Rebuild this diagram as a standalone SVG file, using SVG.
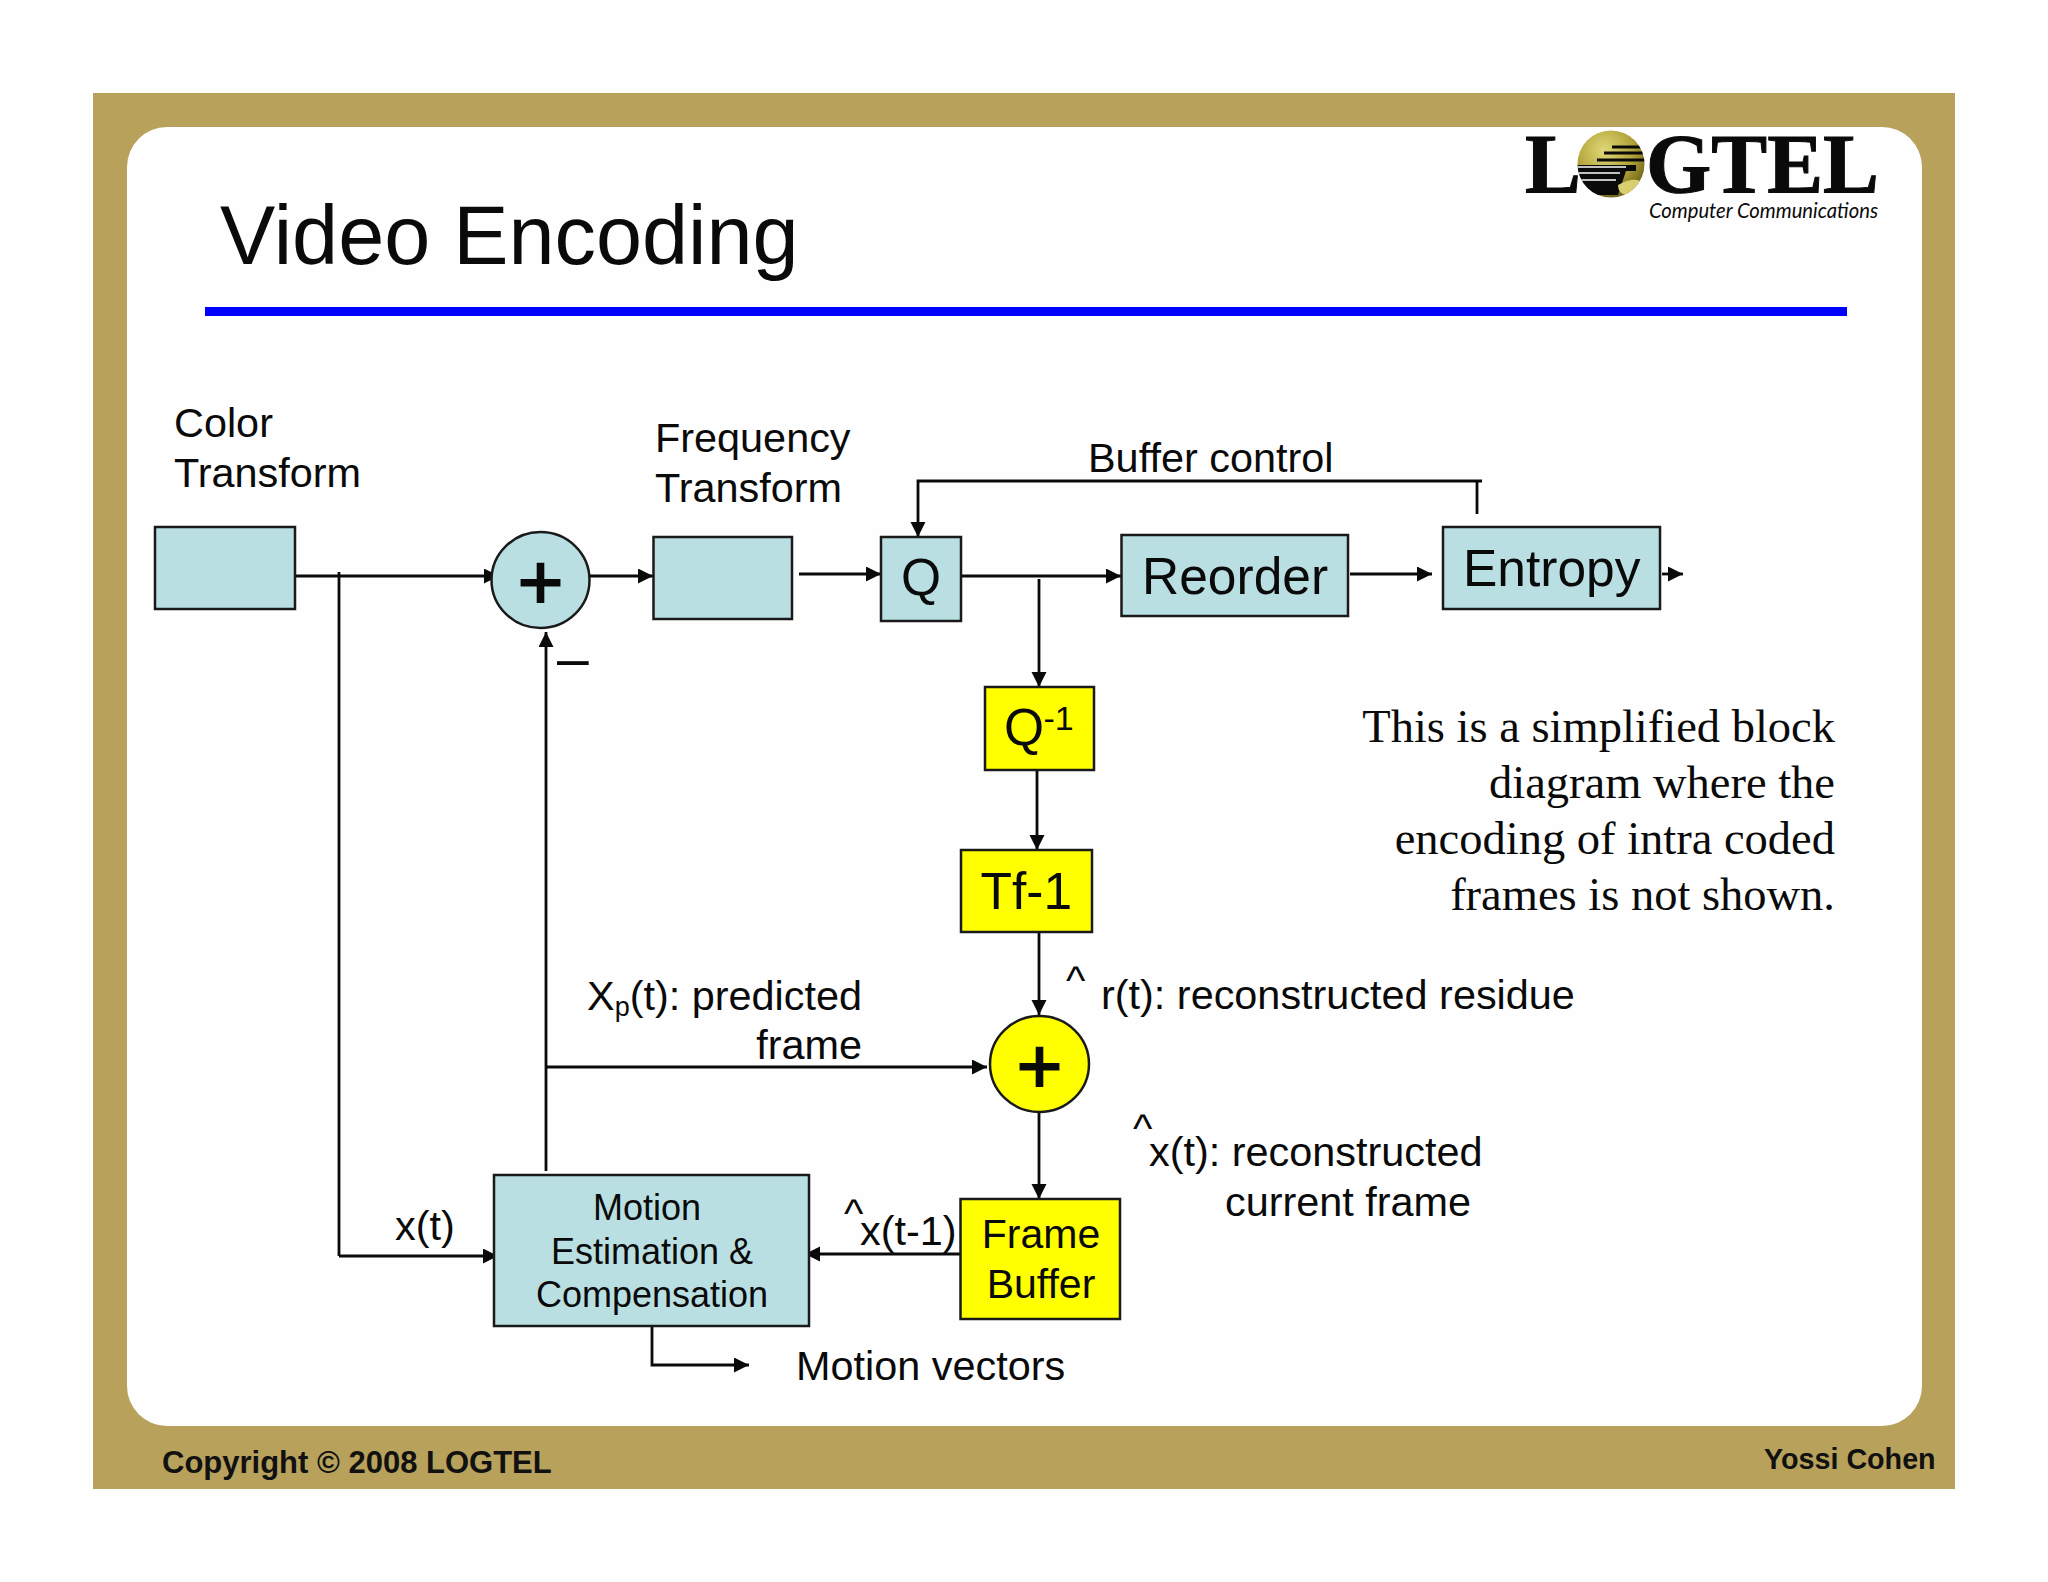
<svg xmlns="http://www.w3.org/2000/svg" width="2048" height="1582" viewBox="0 0 2048 1582">
<style>
text{font-family:"Liberation Sans",Arial,sans-serif;fill:#0a0a0a}
.l{font-size:41.4px}
.b{fill:#b9dfe2;stroke:#1a1a1a;stroke-width:2.5}
.y{fill:#ffff00;stroke:#1a1a1a;stroke-width:2.5}
.c{fill:none;stroke:#0a0a0a;stroke-width:2.8}
.a{marker-end:url(#ah)}
.m{text-anchor:middle}
.n{font-size:51.500px}
.p{font-size:78px;text-anchor:middle;stroke:#0a0a0a;stroke-width:2}
.s{font-family:"Liberation Serif","Times New Roman",serif;font-size:46.500px;text-anchor:end}
.f{font-weight:bold;fill:#111}
</style>
<defs>
<marker id="ah" markerUnits="userSpaceOnUse" markerWidth="16" markerHeight="16" refX="15" refY="7.5" orient="auto"><path d="M0 0L15 7.5L0 15z" fill="#0a0a0a"/></marker>
<radialGradient id="g" cx="0.4" cy="0.3" r="0.8"><stop offset="0" stop-color="#e0d878"/><stop offset="0.55" stop-color="#b0a238"/><stop offset="1" stop-color="#5c5210"/></radialGradient>
<clipPath id="gc"><circle cx="1611" cy="164" r="33.500"/></clipPath>
</defs>
<rect width="2048" height="1582" fill="#fff"/>
<g id="frame">
<rect x="93" y="93" width="1862" height="1396" fill="#b8a15b"/>
<rect x="127" y="127" width="1795" height="1299" rx="40" fill="#fefefe"/>
<rect x="205" y="307" width="1642" height="9" fill="#0000ff"/>
<text x="220" y="264" font-size="82.800">Video Encoding</text>
<text class="f" x="162" y="1473" font-size="31">Copyright © 2008 LOGTEL</text>
<text class="f" x="1764" y="1468.500" font-size="28.700">Yossi Cohen</text>
</g>
<g id="logo">
<text x="1525" y="193" style="font-family:'Liberation Serif','Times New Roman',serif;font-weight:bold" font-size="84" textLength="354" lengthAdjust="spacingAndGlyphs" stroke="#0a0a0a" stroke-width="1">LOGTEL</text>
<circle cx="1611" cy="164" r="33.500" fill="url(#g)"/>
<g clip-path="url(#gc)">
<path d="M1612 147h34M1604 153h42M1597 160h50" stroke="#0a0a0a" stroke-width="3" fill="none"/>
<path d="M1576 165h60V171H1576zM1576 171h50l-8 24h-42z" fill="#0a0a0a"/>
<path d="M1576 167h50M1578 173h42M1580 180h36" stroke="#fff" stroke-width="1.600" fill="none"/>
<path d="M1618 185q14-8 22-4q-2 12-14 14q-8-2-8-10z" fill="#d8d070"/>
</g>
<text x="1649" y="218" font-size="21" style="font-family:Lato,'Open Sans',sans-serif;font-style:italic" textLength="229" lengthAdjust="spacingAndGlyphs">Computer Communications</text>
</g>
<g id="connectors">
<path class="c a" d="M295 576H499"/>
<path class="c" d="M339 572V1256"/>
<path class="c a" d="M339 1256H498"/>
<path class="c a" d="M590 576H653"/>
<path class="c a" d="M799 574H881"/>
<path class="c a" d="M1482 481H918V537"/>
<path class="c" d="M1477 481V514"/>
<path class="c a" d="M961 576H1121"/>
<path class="c a" d="M1039 579V687"/>
<path class="c a" d="M1350 574H1432"/>
<path class="c a" d="M1662 574H1683"/>
<path class="c a" d="M1037 770V850"/>
<path class="c a" d="M1039 932V1015"/>
<path class="c a" d="M1039 1112V1199"/>
<path class="c a" d="M960 1254H805"/>
<path class="c a" d="M546 1171V632"/>
<path class="c a" d="M546 1067H987"/>
<path class="c a" d="M652 1322V1365H749"/>
</g>
<g id="color-transform"><rect class="b" x="155" y="527" width="140" height="82"/></g>
<g id="sum-1"><ellipse class="b" cx="540.500" cy="580" rx="49" ry="48"/><text class="p" x="540.500" y="608.500">+</text></g>
<g id="frequency-transform"><rect class="b" x="653.500" y="537" width="138.500" height="82"/></g>
<g id="q"><rect class="b" x="881" y="537" width="80" height="84"/><text class="n m" x="921" y="595">Q</text></g>
<g id="reorder"><rect class="b" x="1121.500" y="535" width="226.500" height="81"/><text class="n" x="1142" y="594" font-size="52">Reorder</text></g>
<g id="entropy"><rect class="b" x="1443" y="527" width="217" height="82"/><text class="n" x="1463" y="586">Entropy</text></g>
<g id="q-inverse"><rect class="y" x="985" y="687" width="109" height="83"/><text class="n" x="1004" y="745">Q</text><text x="1043.500" y="730" font-size="34">-1</text></g>
<g id="tf-inverse"><rect class="y" x="961" y="850" width="131" height="82"/><text class="n" x="980.500" y="909">Tf-1</text></g>
<g id="sum-2"><ellipse class="y" cx="1039.500" cy="1064" rx="49.500" ry="48"/><text class="p" x="1039.500" y="1092.500">+</text></g>
<g id="frame-buffer"><rect class="y" x="960.500" y="1199" width="159.500" height="120"/><text class="m" x="1041" y="1248" font-size="41">Frame</text><text class="m" x="1041" y="1298" font-size="41">Buffer</text></g>
<g id="motion"><rect class="b" x="494" y="1175" width="315" height="151"/><text class="m" x="647" y="1220" font-size="36">Motion</text><text class="m" x="652" y="1263.500" font-size="36">Estimation &amp;</text><text class="m" x="652" y="1307" font-size="36">Compensation</text></g>
<g id="labels">
<text class="l" x="174" y="437">Color</text>
<text class="l" x="174" y="487">Transform</text>
<text class="l" x="655" y="452">Frequency</text>
<text class="l" x="655" y="501.500">Transform</text>
<text class="l" x="1088" y="472">Buffer control</text>
<text x="557" y="678" font-size="57">–</text>
<text class="l" x="862" y="1010" text-anchor="end">X<tspan font-size="27" dy="6">p</tspan><tspan dy="-6">(t): predicted</tspan></text>
<text class="l" x="862" y="1059" text-anchor="end">frame</text>
<text class="l" x="1066" y="994">^</text>
<text class="l" x="1101" y="1008.500">r(t): reconstructed residue</text>
<text class="l" x="1133" y="1142">^</text>
<text class="l" x="1149" y="1166">x(t): reconstructed</text>
<text class="l" x="1225" y="1216">current frame</text>
<text class="l" x="395" y="1240">x(t)</text>
<text class="l" x="844" y="1227">^</text>
<text class="l" x="860" y="1245">x(t-1)</text>
<text class="l" x="796" y="1380">Motion vectors</text>
<text class="s" x="1835" y="742">This is a simplified block</text>
<text class="s" x="1835" y="798">diagram where the</text>
<text class="s" x="1835" y="854">encoding of intra coded</text>
<text class="s" x="1835" y="910">frames is not shown.</text>
</g>
</svg>
